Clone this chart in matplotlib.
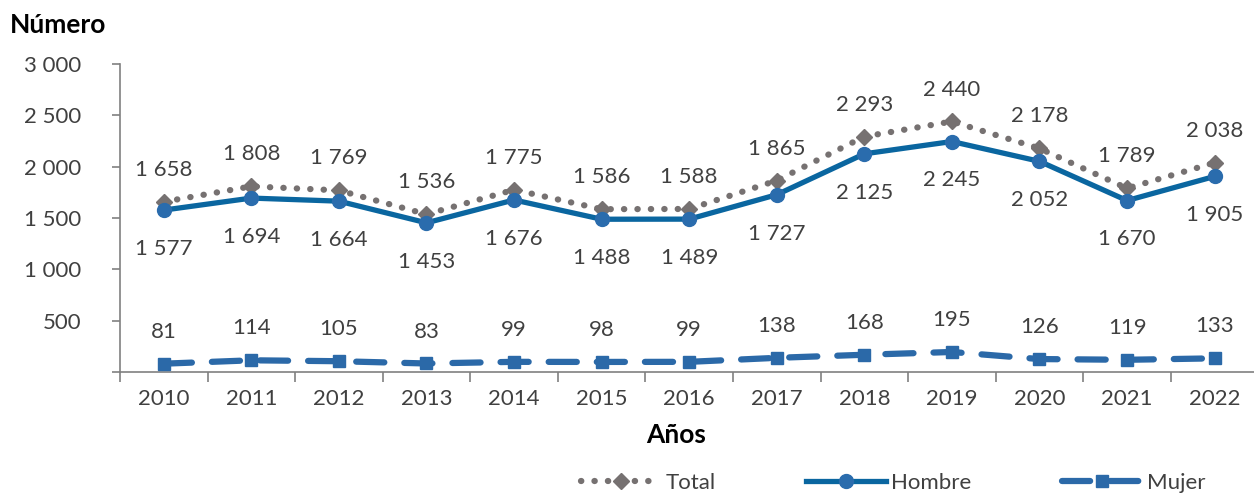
import matplotlib
matplotlib.use("Agg")
import matplotlib.pyplot as plt
from matplotlib.ticker import FixedLocator, FuncFormatter

years = ["2010", "2011", "2012", "2013", "2014", "2015", "2016",
         "2017", "2018", "2019", "2020", "2021", "2022"]
total = [1658, 1808, 1769, 1536, 1775, 1586, 1588, 1865, 2293, 2440, 2178, 1789, 2038]
hombre = [1577, 1694, 1664, 1453, 1676, 1488, 1489, 1727, 2125, 2245, 2052, 1670, 1905]
mujer = [81, 114, 105, 83, 99, 98, 99, 138, 168, 195, 126, 119, 133]

def fmt(v):
    return f"{v:,}".replace(",", " ")

plt.rcParams['font.family'] = ['Lato', 'DejaVu Sans']
txt = '#404040'
fs = 16

fig = plt.figure(figsize=(12.54, 4.93), dpi=100)
ax = fig.add_axes([120/1254, 121/493, 1134/1254, 308/493])
x = list(range(len(years)))

c_total = '#767171'
c_h_line = '#0a66a0'
c_h_mark = '#2a6cad'
c_m = '#2b69a8'

ax.plot(x, total, color=c_total, lw=4.5, linestyle=(0, (0.05, 2.1)),
        dash_capstyle='round', marker='D', markersize=8, mfc=c_total, mec=c_total,
        label='Total', zorder=3)
ax.plot(x, hombre, color=c_h_line, lw=3.8, marker='o', markersize=10,
        mfc=c_h_mark, mec=c_h_mark, label='Hombre', zorder=4)
ax.plot(x, mujer, color=c_m, lw=4.5, linestyle=(0, (4.5, 3.2)), dash_capstyle='round',
        marker='s', markersize=9, mfc=c_m, mec=c_m, label='Mujer', zorder=4)

for i in x:
    ax.annotate(fmt(total[i]), (i, total[i]), xytext=(0, 23), textcoords='offset points',
                ha='center', va='center', fontsize=fs, color=txt)
    ax.annotate(fmt(hombre[i]), (i, hombre[i]), xytext=(0, -28), textcoords='offset points',
                ha='center', va='center', fontsize=fs, color=txt)
    ax.annotate(fmt(mujer[i]), (i, mujer[i]), xytext=(0, 23), textcoords='offset points',
                ha='center', va='center', fontsize=fs, color=txt)

ax.set_xlim(-0.5, 12.45)
ax.set_ylim(0, 3000)
ax.yaxis.set_major_locator(FixedLocator([0, 500, 1000, 1500, 2000, 2500, 3000]))
ax.yaxis.set_major_formatter(FuncFormatter(lambda v, p: "" if v == 0 else fmt(int(v))))
ax.set_xticks(x)
ax.set_xticklabels(years)
ax.xaxis.set_minor_locator(FixedLocator([i - 0.5 for i in range(14)]))
ax.tick_params(axis='x', which='major', length=0, pad=12, labelsize=fs, labelcolor=txt)
ax.tick_params(axis='x', which='minor', length=7, width=1.2, color='#808080', direction='out')
ax.tick_params(axis='y', length=6, width=1.2, color='#808080', pad=22, labelsize=fs, labelcolor=txt)
for s in ['top', 'right']:
    ax.spines[s].set_visible(False)
for s in ['left', 'bottom']:
    ax.spines[s].set_color('#808080')
    ax.spines[s].set_linewidth(1.2)

fig.text(10/1254, 1 - 25/493, "Número", fontsize=19, fontweight='bold', color='black',
         ha='left', va='center')
fig.text(676/1254, 1 - 435/493, "Años", fontsize=19, fontweight='bold', color='black',
         ha='center', va='center')

leg = fig.legend(loc='center', bbox_to_anchor=(893/1254, 1 - 483/493), ncol=3, frameon=False,
                 fontsize=fs, handlelength=3.6, columnspacing=4.1, handletextpad=0.2,
                 labelcolor=txt)

fig.savefig("out.png", dpi=100)
